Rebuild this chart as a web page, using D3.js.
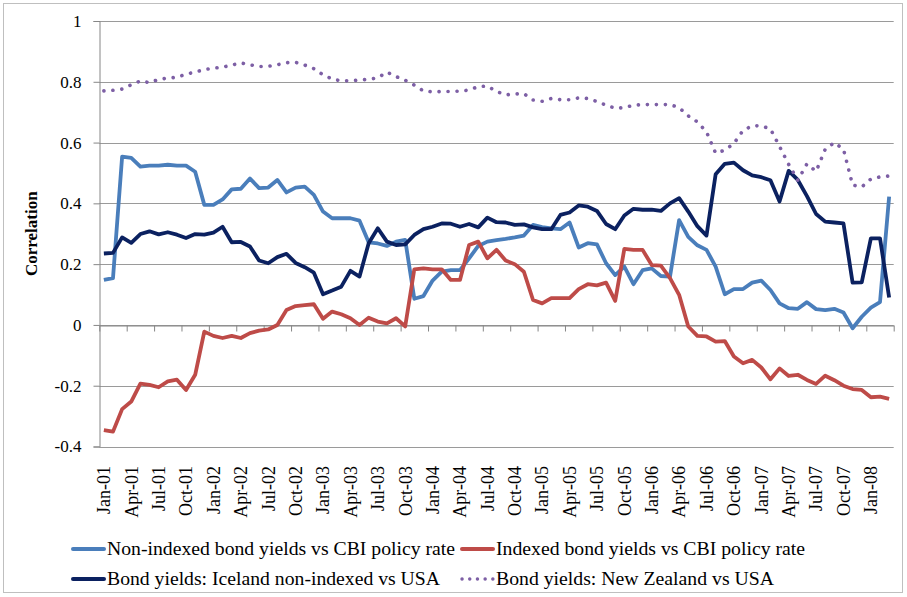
<!DOCTYPE html>
<html lang="en">
<head>
    <meta charset="UTF-8">
    <title>Correlation</title>
    <style>
        body {
            margin: 0;
            background: #fff;
        }
        svg {
            display: block;
            font-family: 'Liberation Serif', 'Times New Roman', serif;
        }
    </style>
    <script src="https://d3js.org/d3.v7.min.js"></script>
</head>
<body>
    <div id="chart"></div>
    <script>
        const width = 907;
        const height = 597;

        // categories: monthly, Jan-01 .. Mar-08
        const monthNames = ["Jan", "Feb", "Mar", "Apr", "May", "Jun", "Jul", "Aug", "Sep", "Oct", "Nov", "Dec"];
        const years = ["01", "02", "03", "04", "05", "06", "07", "08"];
        const months = [];
        years.forEach(yr => monthNames.forEach(m => months.push(m + "-" + yr)));
        months.splice(87);

        const tickLabels = ["Jan-01", "Apr-01", "Jul-01", "Oct-01", "Jan-02", "Apr-02", "Jul-02", "Oct-02",
            "Jan-03", "Apr-03", "Jul-03", "Oct-03", "Jan-04", "Apr-04", "Jul-04", "Oct-04",
            "Jan-05", "Apr-05", "Jul-05", "Oct-05", "Jan-06", "Apr-06", "Jul-06", "Oct-06",
            "Jan-07", "Apr-07", "Jul-07", "Oct-07", "Jan-08"];

        const yTicks = [-0.4, -0.2, 0, 0.2, 0.4, 0.6, 0.8, 1];

        const nonIndexed = [
            0.148, 0.154, 0.554, 0.550, 0.521, 0.524, 0.524, 0.527, 0.524, 0.524,
            0.504, 0.395, 0.395, 0.413, 0.446, 0.448, 0.482, 0.450, 0.452, 0.477,
            0.436, 0.452, 0.455, 0.428, 0.373, 0.351, 0.351, 0.351, 0.343, 0.272,
            0.268, 0.260, 0.274, 0.280, 0.086, 0.095, 0.146, 0.175, 0.180, 0.180,
            0.219, 0.260, 0.274, 0.279, 0.283, 0.288, 0.294, 0.329, 0.322, 0.318,
            0.315, 0.337, 0.255, 0.269, 0.265, 0.203, 0.164, 0.192, 0.134, 0.180,
            0.186, 0.161, 0.159, 0.345, 0.290, 0.262, 0.247, 0.192, 0.101, 0.118,
            0.118, 0.139, 0.146, 0.115, 0.071, 0.055, 0.053, 0.075, 0.052, 0.049,
            0.053, 0.041, -0.011, 0.027, 0.057, 0.075, 0.422
        ];

        const indexed = [
            -0.346, -0.351, -0.277, -0.252, -0.193, -0.197, -0.205, -0.186, -0.180, -0.214,
            -0.164, -0.022, -0.036, -0.043, -0.036, -0.043, -0.027, -0.019, -0.015, 0.000,
            0.049, 0.062, 0.065, 0.068, 0.020, 0.044, 0.035, 0.022, 0.000, 0.024,
            0.011, 0.005, 0.022, -0.005, 0.183, 0.186, 0.183, 0.183, 0.148, 0.148,
            0.263, 0.274, 0.219, 0.247, 0.212, 0.200, 0.175, 0.082, 0.071, 0.088,
            0.088, 0.088, 0.118, 0.134, 0.130, 0.139, 0.079, 0.250, 0.247, 0.247,
            0.197, 0.195, 0.154, 0.099, -0.005, -0.036, -0.038, -0.055, -0.053, -0.104,
            -0.126, -0.115, -0.140, -0.179, -0.143, -0.168, -0.164, -0.181, -0.194, -0.167,
            -0.182, -0.200, -0.211, -0.214, -0.238, -0.236, -0.243
        ];

        const icelandUSA = [
            0.235, 0.237, 0.288, 0.270, 0.299, 0.308, 0.298, 0.305, 0.297, 0.286,
            0.299, 0.297, 0.304, 0.323, 0.272, 0.273, 0.258, 0.212, 0.203, 0.223,
            0.234, 0.204, 0.190, 0.172, 0.101, 0.113, 0.126, 0.178, 0.159, 0.269,
            0.318, 0.274, 0.263, 0.265, 0.296, 0.315, 0.323, 0.334, 0.333, 0.323,
            0.332, 0.321, 0.353, 0.338, 0.337, 0.329, 0.331, 0.321, 0.315, 0.315,
            0.362, 0.370, 0.393, 0.389, 0.375, 0.332, 0.315, 0.360, 0.382, 0.379,
            0.379, 0.375, 0.400, 0.417, 0.373, 0.325, 0.294, 0.496, 0.530, 0.534,
            0.509, 0.492, 0.486, 0.476, 0.406, 0.507, 0.477, 0.424, 0.365, 0.340,
            0.337, 0.334, 0.139, 0.140, 0.285, 0.285, 0.090
        ];

        const nzUSA = [
            0.770, 0.772, 0.776, 0.790, 0.803, 0.797, 0.808, 0.812, 0.815, 0.825,
            0.832, 0.840, 0.845, 0.848, 0.855, 0.862, 0.856, 0.850, 0.851, 0.856,
            0.863, 0.864, 0.855, 0.843, 0.823, 0.809, 0.803, 0.803, 0.806, 0.808,
            0.813, 0.832, 0.817, 0.805, 0.789, 0.770, 0.767, 0.768, 0.768, 0.769,
            0.773, 0.784, 0.786, 0.768, 0.757, 0.760, 0.761, 0.740, 0.736, 0.745,
            0.741, 0.741, 0.747, 0.745, 0.735, 0.723, 0.713, 0.715, 0.723, 0.725,
            0.725, 0.725, 0.725, 0.715, 0.688, 0.668, 0.635, 0.565, 0.575, 0.597,
            0.640, 0.655, 0.655, 0.645, 0.587, 0.528, 0.476, 0.530, 0.505, 0.578,
            0.600, 0.578, 0.460, 0.454, 0.480, 0.487, 0.490
        ];

        const seriesNames = [
            "Non-indexed bond yields vs CBI policy rate",
            "Indexed bond yields vs CBI policy rate",
            "Bond yields: Iceland non-indexed vs USA",
            "Bond yields: New Zealand vs USA"
        ];
        const seriesColors = ["#4a7ebb", "#be4b48", "#0b2160", "#7d5fa5"];

        const series = [
            { name: seriesNames[0], values: nonIndexed, color: seriesColors[0], dotted: false },
            { name: seriesNames[1], values: indexed, color: seriesColors[1], dotted: false },
            { name: seriesNames[2], values: icelandUSA, color: seriesColors[2], dotted: false },
            { name: seriesNames[3], values: nzUSA, color: seriesColors[3], dotted: true }
        ];

        const plot = { left: 99.3, right: 893.7, top: 21, bottom: 446.5 };

        const svg = d3.select("#chart").append("svg")
            .attr("width", width)
            .attr("height", height);

        // chart area border
        svg.append("rect")
            .attr("x", 3.5).attr("y", 3.5)
            .attr("width", 899).attr("height", 589)
            .attr("fill", "none")
            .attr("stroke", "#bfbfbf");

        const x = d3.scaleBand()
            .domain(months)
            .range([plot.left, plot.right]);

        const xIdx = d3.scaleLinear()
            .domain([0, months.length])
            .range([plot.left, plot.right]);

        const y = d3.scaleLinear()
            .domain([-0.4, 1])
            .range([plot.bottom, plot.top]);

        // gridlines
        svg.append("g")
            .selectAll("line")
            .data(yTicks)
            .join("line")
            .attr("x1", plot.left).attr("x2", plot.right)
            .attr("y1", d => Math.round(y(d)) + 0.5)
            .attr("y2", d => Math.round(y(d)) + 0.5)
            .attr("stroke", "#9a9a9a")
            .attr("stroke-width", 1);

        // y axis
        const yAxis = svg.append("g")
            .attr("transform", `translate(${Math.round(plot.left) + 0.5},0)`)
            .call(d3.axisLeft(y)
                .tickValues(yTicks)
                .tickSize(6)
                .tickPadding(12)
                .tickFormat(d => String(+d.toFixed(1))));
        yAxis.select(".domain").attr("stroke", "#868686");
        yAxis.selectAll(".tick line").attr("stroke", "#868686");
        yAxis.selectAll(".tick text")
            .attr("font-family", "'Liberation Serif', serif")
            .attr("font-size", 17)
            .attr("fill", "#000");

        // x axis at zero, ticks between categories
        const xAxis = svg.append("g")
            .attr("transform", `translate(0,${Math.round(y(0)) + 0.5})`)
            .call(d3.axisBottom(xIdx)
                .tickValues(d3.range(0, months.length + 1, 3))
                .tickSize(6)
                .tickSizeOuter(0)
                .tickFormat(""));
        xAxis.select(".domain").attr("stroke", "#868686");
        xAxis.selectAll(".tick line").attr("stroke", "#868686");

        // x labels below plot
        svg.append("g")
            .selectAll("text")
            .data(tickLabels)
            .join("text")
            .attr("transform", d => `translate(${x(d) + x.bandwidth() / 2},466) rotate(-90)`)
            .attr("text-anchor", "end")
            .attr("dy", "0.35em")
            .attr("font-size", 18)
            .attr("fill", "#000")
            .text(d => d);

        // y axis title
        svg.append("text")
            .attr("transform", `translate(31,${(plot.top + plot.bottom) / 2}) rotate(-90)`)
            .attr("text-anchor", "middle")
            .attr("dy", "0.35em")
            .attr("font-size", 17)
            .attr("font-weight", "bold")
            .text("Correlation");

        const line = d3.line()
            .x((d, i) => x(months[i]) + x.bandwidth() / 2)
            .y(d => y(d));

        svg.append("g")
            .selectAll("path")
            .data(series)
            .join("path")
            .attr("d", d => line(d.values))
            .attr("fill", "none")
            .attr("stroke", d => d.color)
            .attr("stroke-width", d => d.dotted ? 3.6 : 3.8)
            .attr("stroke-linejoin", "round")
            .attr("stroke-linecap", d => d.dotted ? "round" : "butt")
            .attr("stroke-dasharray", d => d.dotted ? "0.1 8.9" : null);

        // legend
        const legendItems = [
            { s: series[0], x: 72, y: 549, w: 348 },
            { s: series[1], x: 461, y: 549, w: 309 },
            { s: series[2], x: 72, y: 579, w: 333 },
            { s: series[3], x: 461, y: 579, w: 278 }
        ];
        const legend = svg.append("g")
            .selectAll("g")
            .data(legendItems)
            .join("g")
            .attr("transform", d => `translate(${d.x},${d.y})`);

        legend.append("line")
            .attr("x1", 1).attr("x2", 32)
            .attr("stroke", d => d.s.color)
            .attr("stroke-width", d => d.s.dotted ? 3.4 : 4)
            .attr("stroke-linecap", "round")
            .attr("stroke-dasharray", d => d.s.dotted ? "0.1 7.6" : null);

        legend.append("text")
            .attr("x", 35)
            .attr("dy", "0.35em")
            .attr("font-size", 18)
            .attr("textLength", d => d.w)
            .attr("lengthAdjust", "spacingAndGlyphs")
            .attr("fill", "#000")
            .text(d => d.s.name);
    </script>
</body>
</html>
